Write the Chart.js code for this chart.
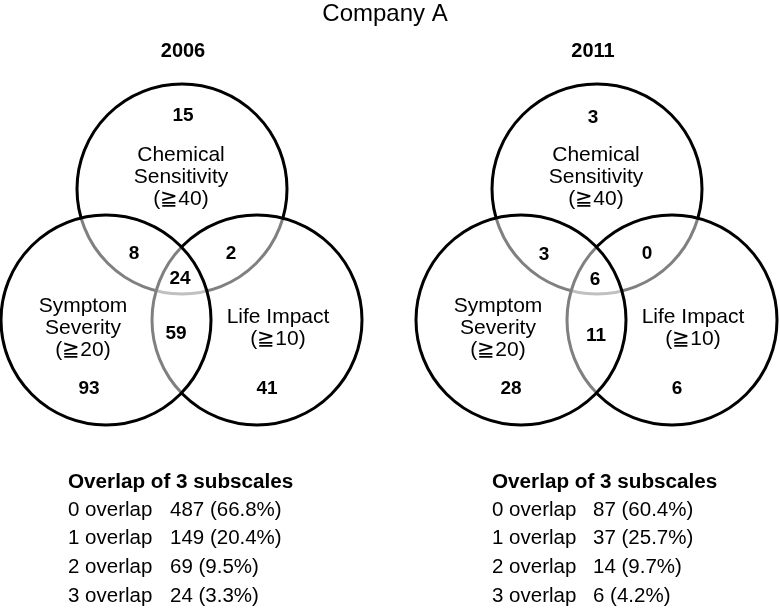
<!DOCTYPE html>
<html>
<head>
<meta charset="utf-8">
<script src="https://cdn.jsdelivr.net/npm/chart.js@4.4.1/dist/chart.umd.min.js"></script>
<style>
  html, body { margin: 0; padding: 0; background: #fff; }
  #wrap { width: 780px; height: 608px; position: relative; }
</style>
</head>
<body>
<div id="wrap"><canvas id="venn"></canvas></div>
<script>
const title = 'Company A';
const years = ['2006', '2011'];
const setLabels = [
    ['Chemical', 'Sensitivity', '(≧40)'],
    ['Symptom', 'Severity', '(≧20)'],
    ['Life Impact', '(≧10)']
];
// regions: C only, C+S, C+L, C+S+L, S+L, S only, L only
const counts2006 = [15, 8, 2, 24, 59, 93, 41];
const counts2011 = [3, 3, 0, 6, 11, 28, 6];
const overlapTitle = 'Overlap of 3 subscales';
const overlapLabels = ['0 overlap', '1 overlap', '2 overlap', '3 overlap'];
const overlap2006 = [487, 149, 69, 24];
const percent2006 = [66.8, 20.4, 9.5, 3.3];
const overlap2011 = [87, 37, 14, 6];
const percent2011 = [60.4, 25.7, 9.7, 4.2];

// layout, in figure units (1 unit = 10px)
const panelX = [0, 41.5];
const circleR = 10.5;
// draw order: Chemical (back), Life, Symptom (front)
const circleCenters = [[18.2, 18.9], [25.7, 32.0], [10.6, 32.0]];
const setLabelPos = [[18.1, 15.5], [8.3, 30.6], [27.8, 31.7]];
const countPos = [
    [[18.3, 11.6], [13.4, 25.4], [23.1, 25.4], [18.0, 27.9], [17.6, 33.4], [8.9, 38.9], [26.7, 38.9]],
    [[17.8, 11.8], [12.9, 25.5], [23.2, 25.4], [18.0, 28.0], [18.1, 33.6], [9.6, 38.9], [26.2, 38.9]]
];
const tableCols = [[6.8, 17.0], [7.7, 17.8]];
const tableRowsY = [51.0, 53.8, 56.7, 59.6];

const FONT = '"Liberation Sans", Arial, Helvetica, sans-serif';
const font = (size, bold) => (bold ? 'bold ' : '') + size + 'px ' + FONT;

const counts = [counts2006, counts2011];
const overlaps = [overlap2006, overlap2011];
const percents = [percent2006, percent2011];

const radiusPx = (ctx) => {
    const sx = ctx.chart.scales.x;
    const r = Math.abs(sx.getPixelForValue(circleR) - sx.getPixelForValue(0));
    return isFinite(r) ? r : 0;
};

const textPlugin = {
    id: 'vennText',
    afterDatasetsDraw(chart) {
        const { ctx, scales: { x, y } } = chart;
        const put = (str, ux, uy, f, align) => {
            ctx.font = f;
            ctx.textAlign = align || 'center';
            ctx.fillText(str, x.getPixelForValue(ux), y.getPixelForValue(uy));
        };
        ctx.save();
        ctx.fillStyle = '#000';
        ctx.textBaseline = 'middle';

        put(title, 38.5, 1.4, font(24, false));

        years.forEach((yr, p) => {
            const ox = panelX[p];
            put(yr, ox + countPos[p][0][0], 5.1, font(20, true));

            setLabels.forEach((lines, s) => {
                lines.forEach((line, i) => {
                    put(line, ox + setLabelPos[s][0], setLabelPos[s][1] + i * 2.2, font(21, false));
                });
            });

            counts[p].forEach((v, i) => {
                put(String(v), ox + countPos[p][i][0], countPos[p][i][1], font(19, true));
            });

            const [cl, cv] = tableCols[p];
            put(overlapTitle, ox + cl, 48.2, font(20.7, true), 'left');
            overlapLabels.forEach((lab, i) => {
                put(lab, ox + cl, tableRowsY[i], font(20.5, false), 'left');
                put(overlaps[p][i] + ' (' + percents[p][i].toFixed(1) + '%)', ox + cv, tableRowsY[i], font(20.5, false), 'left');
            });
        });
        ctx.restore();
    }
};

new Chart(document.getElementById('venn').getContext('2d'), {
    type: 'scatter',
    data: {
        datasets: years.map((yr, p) => ({
            label: yr,
            data: circleCenters.map(([cx, cy]) => ({ x: cx + panelX[p], y: cy })),
            pointRadius: radiusPx,
            pointBackgroundColor: 'rgba(255, 255, 255, 0.5)',
            pointBorderColor: '#000',
            pointBorderWidth: 3,
            clip: false
        }))
    },
    options: {
        responsive: true,
        maintainAspectRatio: false,
        animation: false,
        events: [],
        layout: { padding: 0, autoPadding: false },
        scales: {
            x: { type: 'linear', min: 0, max: 78, display: false },
            y: { type: 'linear', min: 0, max: 60.8, reverse: true, display: false }
        },
        plugins: {
            legend: { display: false },
            tooltip: { enabled: false }
        }
    },
    plugins: [textPlugin]
});
</script>
</body>
</html>
